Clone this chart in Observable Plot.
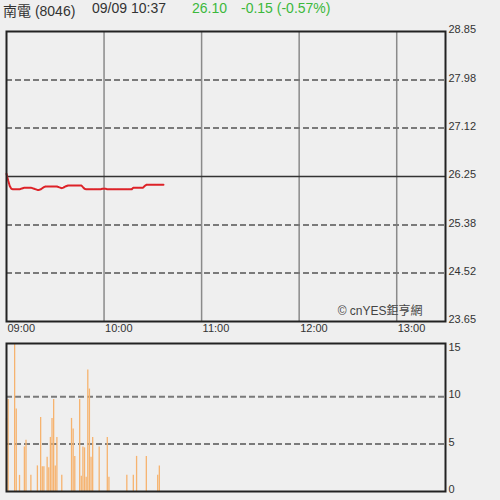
<!DOCTYPE html>
<html><head><meta charset="utf-8">
<script src="https://cdn.jsdelivr.net/npm/d3@7"></script>
<script src="https://cdn.jsdelivr.net/npm/@observablehq/plot@0.6"></script>
<style>
body{margin:0;background:#efefef;font-family:"Liberation Sans","Noto Sans CJK TC",sans-serif;}
#wrap{position:relative;width:500px;height:500px;overflow:hidden;}
#title{position:relative;height:24px;font-size:14px;color:#333;}
#title span{position:absolute;top:0px;white-space:nowrap;}
svg{display:block;}
</style></head><body>
<div id="wrap"><div id="title"></div><div id="top"></div><div id="bot"></div></div>
<script>
// ---- data ----
const stockName = "南電 (8046)";
const stamp = "09/09 10:37";
const lastPrice = "26.10";
const changeText = "-0.15 (-0.57%)";
const copyright = "© cnYES鉅亨網";

const timeTickMinutes = [0, 60, 120, 180, 240];
const timeTickLabels = ["09:00", "10:00", "11:00", "12:00", "13:00"];
const sessionMinutes = [0, 270];

const priceTicks = [28.85, 27.98, 27.12, 26.25, 25.38, 24.52, 23.65];
const prevClose = 26.25;
// one value per minute from 09:00 to 10:37
const priceValues = [
  26.30, 26.18, 26.08, 26.03, 26.02, 26.02, 26.02, 26.02, 26.02,
  26.03, 26.04, 26.05, 26.05, 26.05, 26.05, 26.05, 26.04,
  26.03, 26.02, 26.01, 26.01, 26.02,
  26.04, 26.06, 26.07,
  26.07, 26.07, 26.07, 26.07, 26.07, 26.07, 26.07,
  26.06, 26.05, 26.04, 26.05, 26.07, 26.08,
  26.09, 26.09, 26.09, 26.09, 26.09, 26.09, 26.09, 26.09, 26.09,
  26.06, 26.03,
  26.02, 26.02, 26.02, 26.02, 26.02, 26.02, 26.02, 26.02, 26.02, 26.02,
  26.03, 26.03, 26.03,
  26.02, 26.02, 26.02, 26.02, 26.02, 26.02, 26.02, 26.02,
  26.02, 26.02, 26.02, 26.02, 26.02, 26.02, 26.02, 26.02,
  26.05, 26.05, 26.05, 26.05, 26.05, 26.05, 26.05,
  26.08,
  26.10, 26.10, 26.10, 26.10, 26.10, 26.10, 26.10, 26.10, 26.10, 26.10, 26.10, 26.10
];

const volumeTicks = [15, 10, 5, 0];
const volumeMax = 15.6;
const volumeMinutes = [0, 1, 5, 6, 8, 11, 12, 15, 19, 21, 22, 23, 25, 26, 27, 28, 29, 30, 31, 34,
  40, 41, 42, 45, 46, 47, 48, 49, 50, 51, 52, 53, 57, 62, 63, 74, 78, 80, 86, 93, 94];
const volumeValues = [7.7, 9.7, 15.6, 8.7, 1.7, 4.7, 5.4, 1.7, 2.7, 7.8, 2.6, 2.6, 3.6, 2.5, 5.7, 7.7, 9.7, 2.7, 5.7, 1.7,
  7.7, 6.6, 3.7, 9.7, 1.6, 4.7, 4.6, 1.5, 12.8, 10.8, 3.6, 5.7, 4.7, 5.7, 1.5, 1.7, 1.7, 3.7, 3.7, 1.7, 2.7];

// ---- title ----
const title = document.getElementById("title");
[[stockName, 3, "#333"], [stamp, 92, "#333"], [lastPrice, 192, "#3cb83c"], [changeText, 241, "#3cb83c"]]
  .forEach(([t, left, c]) => {
    const s = document.createElement("span");
    s.textContent = t; s.style.left = left + "px"; s.style.color = c;
    title.appendChild(s);
  });

const baseStyle = {background: "transparent", fontFamily: "Liberation Sans, Noto Sans CJK TC, sans-serif", fontSize: "11px", color: "#333", overflow: "visible"};

// ---- price panel ----
const priceData = priceValues.map((p, i) => ({m: i, p}));
const topChart = Plot.plot({
  width: 500, height: 313, marginTop: 7, marginBottom: 16, marginLeft: 6, marginRight: 55,
  style: baseStyle,
  x: {domain: sessionMinutes, axis: null},
  y: {domain: [priceTicks[priceTicks.length - 1], priceTicks[0]], axis: null},
  marks: [
    Plot.ruleX(timeTickMinutes.slice(1), {stroke: "#8a8a8a", strokeWidth: 1.5}),
    Plot.ruleY(priceTicks.slice(1, -1).filter(v => v !== prevClose), {stroke: "#7a7a7a", strokeWidth: 2, strokeDasharray: "6,3"}),
    Plot.ruleY([prevClose], {stroke: "#333", strokeWidth: 1.5}),
    Plot.line(priceData, {x: "m", y: "p", stroke: "#dd2228", strokeWidth: 2, strokeDasharray: "3,0.8"}),
    Plot.text(priceTicks, {x: () => sessionMinutes[1], y: d => d, text: d => d.toFixed(2), textAnchor: "start", dx: 3, dy: -2, fill: "#333"}),
    Plot.text(timeTickMinutes, {x: d => d, text: (d, i) => timeTickLabels[i], frameAnchor: "bottom", textAnchor: "start", lineAnchor: "top", dx: 1, dy: 3, fill: "#333"}),
    Plot.text([copyright], {frameAnchor: "bottom-right", textAnchor: "end", dx: -23, dy: -7, fontSize: 12, fill: "#444"}),
    Plot.frame({stroke: "#222", strokeWidth: 2})
  ]
});
document.getElementById("top").appendChild(topChart);

// ---- volume panel ----
const volData = volumeMinutes.map((m, i) => ({m, v: volumeValues[i]}));
const botChart = Plot.plot({
  width: 500, height: 163, marginTop: 6, marginBottom: 9, marginLeft: 6, marginRight: 55,
  style: baseStyle,
  x: {domain: sessionMinutes, axis: null},
  y: {domain: [0, volumeMax], axis: null},
  marks: [
    Plot.ruleY(volumeTicks.filter(v => v === 5 || v === 10), {stroke: "#7a7a7a", strokeWidth: 2, strokeDasharray: "6,3"}),
    Plot.ruleX(volData, {x: "m", y1: 0, y2: "v", stroke: "#f6b36f", strokeWidth: 1.3}),
    Plot.text(volumeTicks, {x: () => sessionMinutes[1], y: d => d, text: d => String(d), textAnchor: "start", dx: 3, dy: -2, fill: "#333"}),
    Plot.frame({stroke: "#222", strokeWidth: 2})
  ]
});
document.getElementById("bot").appendChild(botChart);
</script>
</body></html>
